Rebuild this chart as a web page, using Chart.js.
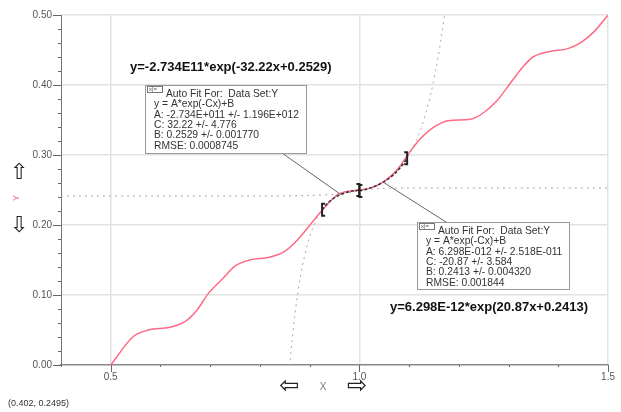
<!DOCTYPE html>
<html>
<head>
<meta charset="utf-8">
<script src="https://cdn.jsdelivr.net/npm/chart.js@4"></script>
<style>
  html, body { margin: 0; padding: 0; background: #fff; }
  #wrap { width: 621px; height: 412px; position: relative; }
</style>
</head>
<body>
<div id="wrap"><canvas id="c"></canvas></div>
<script>
// Measured curve
const dataX = [0.5, 0.546, 0.576, 0.619, 0.649, 0.673, 0.696, 0.726, 0.749, 0.779, 0.819, 0.849, 0.876, 0.903, 0.925, 0.958, 1.0, 1.023, 1.049, 1.076, 1.096, 1.116, 1.146, 1.179, 1.223, 1.249, 1.276, 1.306, 1.329, 1.349, 1.383, 1.419, 1.446, 1.473, 1.5];
const dataY = [0.0, 0.041, 0.050, 0.054, 0.062, 0.078, 0.102, 0.124, 0.141, 0.150, 0.154, 0.162, 0.179, 0.202, 0.221, 0.244, 0.250, 0.253, 0.262, 0.279, 0.299, 0.318, 0.338, 0.349, 0.351, 0.360, 0.377, 0.405, 0.426, 0.440, 0.448, 0.452, 0.461, 0.477, 0.5];

// Auto fit results: y = A*exp(-Cx)+B
const fitA = [-2.734e11, 6.298e-12];
const fitC = [32.22, -20.87];
const fitB = [0.2529, 0.2413];
const fitFrom = [0.925, 1.0];
const fitTo = [1.0, 1.096];
const fit1SampleX = [0.855, 0.86, 0.865, 0.87, 0.875, 0.88, 0.885, 0.89, 0.895, 0.9, 0.905, 0.91, 0.915, 0.92, 0.925, 0.935, 0.945, 0.955, 0.965, 0.975, 0.99, 1.0, 1.05, 1.1, 1.2, 1.3, 1.4, 1.5];
const fit2SampleX = [0.4, 0.6, 0.8, 0.9, 0.95, 1.0, 1.012, 1.024, 1.036, 1.048, 1.06, 1.072, 1.084, 1.096, 1.105, 1.115, 1.125, 1.135, 1.145, 1.155, 1.165, 1.175, 1.185];

// Axis ticks
const xMin = 0.4, xMax = 1.5, xStep = 0.1;
const xLabelTicks = [0.5, 1.0, 1.5];
const yMin = 0, yMax = 0.5, yStep = 0.02, yMajorStep = 0.1;

// Fit result boxes
const fitBoxLines = [
  ["Auto Fit For:  Data Set:Y", "y = A*exp(-Cx)+B", "A: -2.734E+011 +/- 1.196E+012", "C: 32.22 +/- 4.776", "B: 0.2529 +/- 0.001770", "RMSE: 0.0008745"],
  ["Auto Fit For:  Data Set:Y", "y = A*exp(-Cx)+B", "A: 6.298E-012 +/- 2.518E-011", "C: -20.87 +/- 3.584", "B: 0.2413 +/- 0.004320", "RMSE: 0.001844"]
];
const fitEquations = ["y=-2.734E11*exp(-32.22x+0.2529)", "y=6.298E-12*exp(20.87x+0.2413)"];
const cursorText = "(0.402, 0.2495)";
const xTitle = "X", yTitle = "Y";

function fitValue(i, x) { return fitA[i] * Math.exp(-fitC[i] * x) + fitB[i]; }
function fitPoints(i, xs) { return xs.map(x => ({ x: x, y: fitValue(i, x) })); }
function fitRangePoints(i, xs) {
  return fitPoints(i, xs.filter(x => x >= fitFrom[i] - 1e-9 && x <= fitTo[i] + 1e-9));
}

const FONT = "'Liberation Sans', Arial, sans-serif";
Chart.defaults.font.family = FONT;

const overlay = {
  id: 'overlay',
  afterDraw(chart) {
    const ctx = chart.ctx;
    const xs = chart.scales.x, ys = chart.scales.y;
    const area = chart.chartArea;
    ctx.save();

    // tick marks: long at labelled values, short elsewhere
    ctx.strokeStyle = '#666';
    ctx.lineWidth = 1;
    ys.ticks.forEach(t => {
      const major = Math.abs(Math.round(t.value / yMajorStep) * yMajorStep - t.value) < 1e-6;
      const py = Math.round(ys.getPixelForValue(t.value)) + 0.5;
      ctx.beginPath();
      ctx.moveTo(area.left - (major ? 8 : 3), py);
      ctx.lineTo(area.left, py);
      ctx.stroke();
    });
    xs.ticks.forEach(t => {
      const major = xLabelTicks.some(v => Math.abs(v - t.value) < 1e-6);
      const px = Math.round(xs.getPixelForValue(t.value)) + 0.5;
      ctx.beginPath();
      ctx.moveTo(px, area.bottom);
      ctx.lineTo(px, area.bottom + (major ? 7 : 2));
      ctx.stroke();
    });

    // fit range brackets
    ctx.strokeStyle = '#222';
    ctx.lineWidth = 2;
    const bracket = (x, y, dir) => {
      const px = xs.getPixelForValue(x), py = ys.getPixelForValue(y);
      ctx.beginPath();
      ctx.moveTo(px + dir * 3, py - 6);
      ctx.lineTo(px, py - 6);
      ctx.lineTo(px, py + 6);
      ctx.lineTo(px + dir * 3, py + 6);
      ctx.stroke();
    };
    for (let i = 0; i < 2; i++) {
      bracket(fitFrom[i], fitValue(i, fitFrom[i]), 1);
      bracket(fitTo[i], fitValue(i, fitTo[i]), -1);
    }

    // leader lines from the boxes to the middle of each fitted range
    const boxes = [
      { l: 145, t: 85, r: 306, b: 153, anchor: [282, 153] },
      { l: 417, t: 222, r: 569, b: 289, anchor: [446, 222] }
    ];
    ctx.strokeStyle = '#666';
    ctx.lineWidth = 1;
    boxes.forEach((bx, i) => {
      const mx = (fitFrom[i] + fitTo[i]) / 2;
      ctx.beginPath();
      ctx.moveTo(bx.anchor[0], bx.anchor[1]);
      ctx.lineTo(xs.getPixelForValue(mx), ys.getPixelForValue(fitValue(i, mx)));
      ctx.stroke();
    });

    // fit result boxes
    boxes.forEach((bx, i) => {
      ctx.fillStyle = '#fff';
      ctx.fillRect(bx.l, bx.t, bx.r - bx.l, bx.b - bx.t);
      ctx.strokeStyle = '#999';
      ctx.lineWidth = 1;
      ctx.strokeRect(bx.l + 0.5, bx.t + 0.5, bx.r - bx.l, bx.b - bx.t);
      // small close/minimise tab
      ctx.strokeStyle = '#777';
      ctx.strokeRect(bx.l + 2.5, bx.t + 1.5, 15, 6);
      ctx.fillStyle = '#555';
      ctx.font = '6px ' + FONT;
      ctx.textBaseline = 'middle';
      ctx.textAlign = 'left';
      ctx.fillText('x|=', bx.l + 4, bx.t + 4.5);
      ctx.fillStyle = '#333';
      ctx.font = '10.3px ' + FONT;
      fitBoxLines[i].forEach((s, k) => {
        const tx = k === 0 ? bx.l + 21 : bx.l + 9;
        ctx.fillText(s, tx, bx.t + 9 + k * 10.4);
      });
    });

    // fit equations
    ctx.fillStyle = '#111';
    ctx.font = 'bold 13px ' + FONT;
    ctx.textBaseline = 'middle';
    ctx.textAlign = 'left';
    ctx.fillText(fitEquations[0], 130, 67);
    ctx.fillText(fitEquations[1], 390, 307);

    // axis scroll arrows and titles
    ctx.fillStyle = '#222';
    ctx.font = '22px "DejaVu Sans"';
    ctx.textAlign = 'center';
    ctx.fillText('\u21E7', 19, 173);
    ctx.fillText('\u21E9', 19, 226);
    ctx.font = '24px "DejaVu Sans"';
    ctx.fillText('\u21E6', 289, 387);
    ctx.fillText('\u21E8', 357, 387);

    ctx.fillStyle = '#777';
    ctx.font = '10px ' + FONT;
    ctx.fillText(xTitle, 323, 387);

    ctx.save();
    ctx.translate(17, 198);
    ctx.rotate(-Math.PI / 2);
    ctx.fillStyle = '#ff5a7a';
    ctx.font = '9px ' + FONT;
    ctx.fillText(yTitle, 0, 0);
    ctx.restore();

    ctx.fillStyle = '#333';
    ctx.font = '9px ' + FONT;
    ctx.textAlign = 'left';
    ctx.fillText(cursorText, 8, 404);

    ctx.restore();
  }
};

new Chart(document.getElementById('c'), {
  type: 'line',
  data: {
    datasets: [
      {
        label: 'Fit 1 extrapolated',
        data: fitPoints(0, fit1SampleX),
        borderColor: '#a8a8a8', borderWidth: 1, borderDash: [2, 4],
        pointRadius: 0, tension: 0.3, order: 4
      },
      {
        label: 'Fit 2 extrapolated',
        data: fitPoints(1, fit2SampleX),
        borderColor: '#a8a8a8', borderWidth: 1, borderDash: [2, 4],
        pointRadius: 0, tension: 0.3, order: 3
      },
      {
        label: 'Y',
        data: dataX.map((x, i) => ({ x: x, y: dataY[i] })),
        borderColor: '#ff6a86', borderWidth: 1.5,
        pointRadius: 0, cubicInterpolationMode: 'monotone', order: 2
      },
      {
        label: 'Fit 1',
        data: fitRangePoints(0, fit1SampleX),
        borderColor: '#333', borderWidth: 1.5, borderDash: [3, 2],
        pointRadius: 0, tension: 0.3, order: 1
      },
      {
        label: 'Fit 2',
        data: fitRangePoints(1, fit2SampleX),
        borderColor: '#333', borderWidth: 1.5, borderDash: [3, 2],
        pointRadius: 0, tension: 0.3, order: 0
      }
    ]
  },
  options: {
    responsive: true,
    maintainAspectRatio: false,
    animation: false,
    layout: { padding: { top: 9, right: 9, left: 0, bottom: 0 } },
    plugins: { legend: { display: false }, tooltip: { enabled: false } },
    scales: {
      x: {
        type: 'linear', min: xMin, max: xMax,
        afterFit(s) { s.height = 47; },
        border: { color: '#888', width: 1.5 },
        grid: {
          drawTicks: false,
          lineWidth: 1.5,
          color: c => (c.tick && xLabelTicks.some(v => Math.abs(v - c.tick.value) < 1e-6)) ? '#e2e2e2' : 'rgba(0,0,0,0)'
        },
        ticks: {
          stepSize: xStep, autoSkip: false, maxRotation: 0, padding: 6,
          color: '#555', font: { size: 10 },
          callback: v => xLabelTicks.some(t => Math.abs(t - v) < 1e-6) ? v.toFixed(1) : ''
        }
      },
      y: {
        type: 'linear', min: yMin, max: yMax,
        afterFit(s) { s.width = 61; },
        border: { color: '#777', width: 1 },
        grid: {
          drawTicks: false,
          lineWidth: 1.5,
          color: c => {
            if (!c.tick) return 'rgba(0,0,0,0)';
            const v = c.tick.value;
            return Math.abs(Math.round(v / yMajorStep) * yMajorStep - v) < 1e-6 && v > 0 ? '#e2e2e2' : 'rgba(0,0,0,0)';
          }
        },
        ticks: {
          stepSize: yStep, autoSkip: false, padding: 9,
          color: '#555', font: { size: 10 },
          callback: v => Math.abs(Math.round(v / yMajorStep) * yMajorStep - v) < 1e-6 ? v.toFixed(2) : ''
        }
      }
    }
  },
  plugins: [overlay]
});
</script>
</body>
</html>
